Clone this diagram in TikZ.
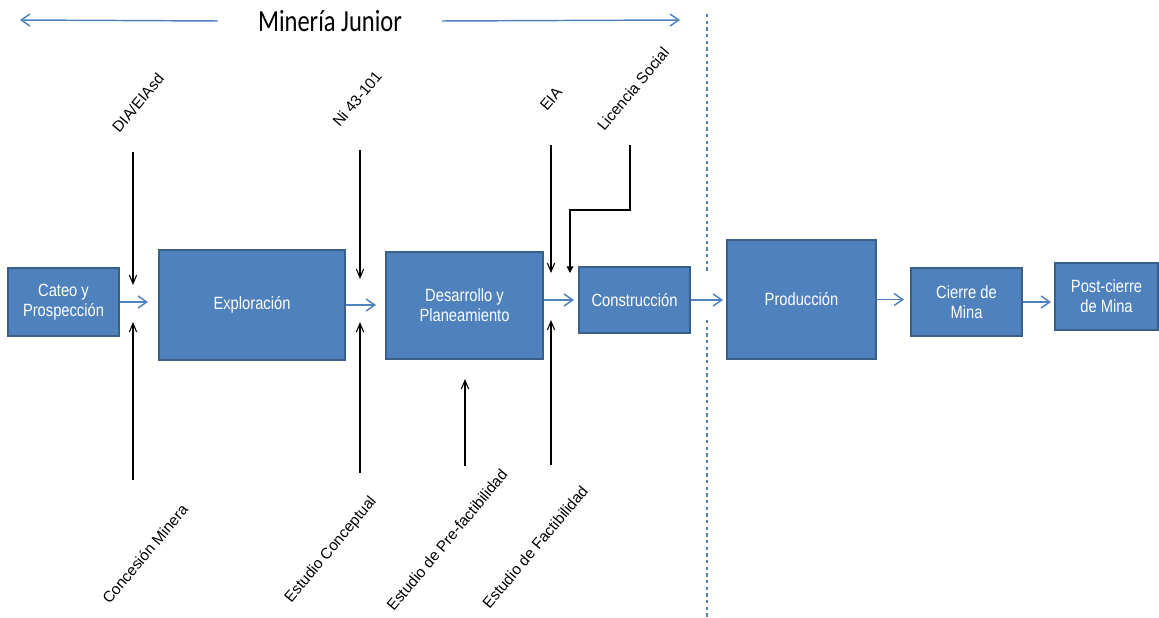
\documentclass[tikz,border=0pt]{standalone}
\usepackage{fontspec}
\setmainfont{Liberation Sans}
\newfontfamily\boxfont[FakeStretch=0.83]{Liberation Sans}
\newfontfamily\titlefont[FakeStretch=0.8]{Carlito}
\usetikzlibrary{arrows.meta}
\definecolor{boxblue}{HTML}{4F81BD}
\definecolor{boxedge}{HTML}{3A5F8B}
\tikzset{
  box/.style={draw=boxedge, line width=1.5pt, fill=boxblue, inner sep=0pt, text=white,
    font=\boxfont\fontsize{13.3}{15}\selectfont, align=center},
  flow/.style={draw=boxblue, line width=1.1pt, -{Straight Barb[length=6.5pt,width=9pt]}},
  inp/.style={draw=black, line width=0.8pt, -{Straight Barb[length=6.5pt,width=5.5pt]}},
  inpf/.style={draw=black, line width=0.8pt, -{Triangle[length=5pt,width=5pt]}},
  lbl/.style={rotate=50, font=\fontsize{11.5}{13}\selectfont, inner sep=1pt},
  sep/.style={draw=boxblue, line width=0.8pt, dash pattern=on 2.5pt off 2.5pt}
}
\begin{document}
\begin{tikzpicture}[x=0.75pt,y=-0.75pt]
\useasboundingbox (0,0) rectangle (1159,617);
% boxes
\node[box, minimum width=83.25pt, minimum height=51pt] (cateo) at (63.5,302) {Cateo y\\Prospección};
\node[box, minimum width=139.5pt, minimum height=82.5pt] (explo) at (252,305) {Exploración};
\node[box, minimum width=117.75pt, minimum height=80.25pt] (des) at (464.5,305.5) {Desarrollo y\\Planeamiento};
\node[box, minimum width=83.25pt, minimum height=49.5pt] (cons) at (634.5,300) {Construcción};
\node[box, minimum width=111.75pt, minimum height=89.25pt] (prod) at (801.5,299.5) {Producción};
\node[box, minimum width=83.25pt, minimum height=51pt] (cierre) at (966.5,302) {Cierre de\\Mina};
\node[box, minimum width=77.25pt, minimum height=50.25pt] (post) at (1106.5,296.5) {Post-cierre\\de Mina};
% flow arrows
\draw[flow, shorten >=7.5pt] (cateo.east) -- (cateo.east -| explo.west);
\draw[flow, shorten >=6.75pt] (explo.east) -- (explo.east -| des.west);
\draw[flow, shorten >=3pt] (cons.west -| des.east) -- (cons.west);
\draw[flow, shorten >=2.25pt] (cons.east) -- (cons.east -| prod.west);
\draw[flow, shorten >=4.5pt] (prod.east) -- (prod.east -| cierre.west);
\draw[flow, shorten >=2.25pt] (cierre.east) -- (cierre.east -| post.west);
% title
\node[font=\titlefont\fontsize{23}{26}\selectfont, inner xsep=30pt, inner ysep=0pt] (title) at (330,21) {Minería Junior};
\coordinate (jl) at (20,20);
\coordinate (jr) at (680,20);
\draw[flow] (title.west) -- (jl);
\draw[flow] (title.east) -- (jr);
% separator
\coordinate (d1) at (707,14);
\coordinate (d2) at (707,272);
\coordinate (d3) at (707,320);
\coordinate (d4) at (707,617);
\draw[sep] (d1) -- (d2) (d3) -- (d4);
% input arrows
\coordinate (diaT) at (133,152);  \coordinate (diaB) at (133,285);
\coordinate (conB) at (133,480);  \coordinate (conT) at (133,322);
\coordinate (niT) at (360,150);   \coordinate (niB) at (360,279);
\coordinate (ecB) at (360,473);   \coordinate (ecT) at (360,322);
\coordinate (pfB) at (465,466);   \coordinate (pfT) at (465,379);
\coordinate (eiaT) at (551,145);  \coordinate (eiaB) at (551,273);
\coordinate (efB) at (551,465);   \coordinate (efT) at (551,320);
\coordinate (lsT) at (630,145);   \coordinate (lsM) at (630,210);
\coordinate (lsN) at (570,210);   \coordinate (lsB) at (570,273);
\draw[inp] (diaT) -- (diaB);
\draw[inp] (conB) -- (conT);
\draw[inp] (niT) -- (niB);
\draw[inp] (ecB) -- (ecT);
\draw[inp] (pfB) -- (pfT);
\draw[inp] (eiaT) -- (eiaB);
\draw[inp] (efB) -- (efT);
\draw[inpf] (lsT) -- (lsM) -- (lsN) -- (lsB);
% labels
\node[lbl] (ldia) at (138,103) {DIA/EIAsd};
\node[lbl] (lni) at (357,99) {Ni 43-101};
\node[lbl] (leia) at (551,99) {EIA};
\node[lbl] (lls) at (633,89) {Licencia Social};
\node[lbl] (lcon) at (145,554) {Concesión Minera};
\node[lbl] (lec) at (331,550) {Estudio Conceptual};
\node[lbl] (lpf) at (447,540) {Estudio de Pre-factibilidad};
\node[lbl] (lef) at (535,547) {Estudio de Factibilidad};
\end{tikzpicture}
\end{document}
